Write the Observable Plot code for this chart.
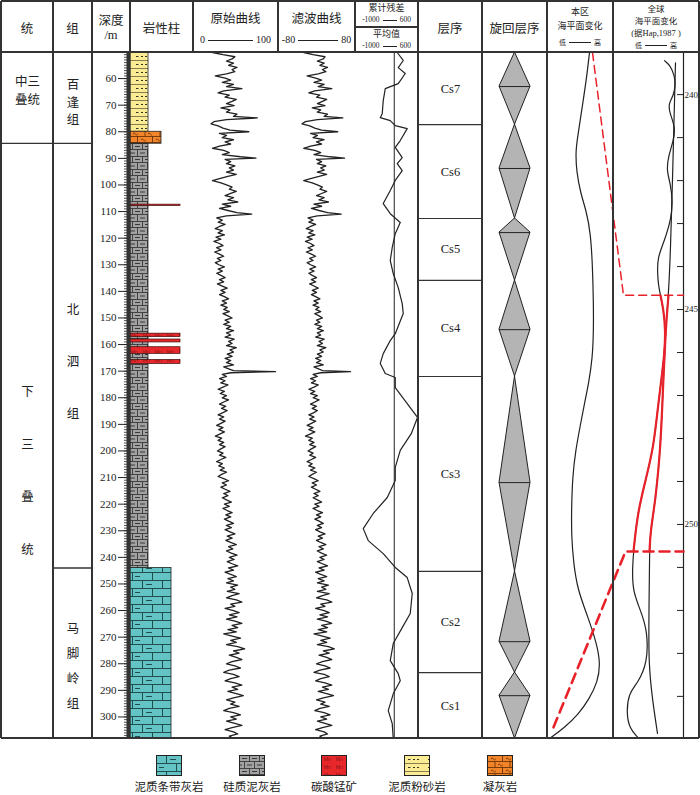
<!DOCTYPE html>
<html><head><meta charset="utf-8">
<script src="https://cdn.jsdelivr.net/npm/d3@7"></script>
<script src="https://cdn.jsdelivr.net/npm/@observablehq/plot@0.6"></script>
<style>
html,body{margin:0;padding:0;background:#fff;}
#root{position:relative;width:700px;height:795px;overflow:hidden;font-family:"Liberation Serif","Noto Sans CJK SC",serif;color:#222;}
.abs{position:absolute;}
.abs svg{display:block;}
</style></head>
<body>
<svg width="0" height="0" style="position:absolute">
<defs>
<pattern id="pTeal" patternUnits="userSpaceOnUse" width="40" height="16">
<rect width="40" height="16" fill="#64c3c4"/>
<g stroke="#214f50" stroke-width="1" fill="none">
<path d="M0,0.5H40M0,8.5H40M10.5,0.5V8.5M30.5,0.5V8.5M0.5,8.5V16M20.5,8.5V16"/>
<path d="M14,4.5h6M3,12.5h5"/>
</g></pattern>
<pattern id="pGray" patternUnits="userSpaceOnUse" width="20" height="13">
<rect width="20" height="13" fill="#a2a2a2"/>
<g stroke="#383838" stroke-width="0.9" fill="none">
<path d="M0,0.5H20M0,6.5H20M0.5,0.5V6.5M10.5,0.5V6.5M5.5,6.5V13M15.5,6.5V13"/>
<path d="M3,3.5h5M13,3.5h5M8,10h5M18,10h2M0,10h3" stroke-width="1.1"/>
</g></pattern>
<pattern id="pYellow" patternUnits="userSpaceOnUse" width="20" height="8">
<rect width="20" height="8" fill="#fbec93"/>
<path d="M0,0.5H20" stroke="#6b6240" stroke-width="0.8"/>
<path d="M4,4.5h2.5M9,4.5h2M13,4.5h2" stroke="#333" stroke-width="1"/>
</pattern>
<pattern id="pOrange" patternUnits="userSpaceOnUse" width="30" height="12">
<rect width="30" height="12" fill="#f2842a"/>
<g stroke="#5a2a05" stroke-width="0.8" fill="none">
<path d="M0,0.5H30M0,6.5H30M0.5,0V6.5M15.5,0V6.5M8,6.5V12M23,6.5V12"/>
<path d="M4,4q1.2,-2 2.4,0t2.4,0M19,4q1.2,-2 2.4,0t2.4,0M11,10q1.2,-2 2.4,0t2.4,0M26,10q1.2,-2 2.4,0t2.4,0"/>
</g></pattern>
<pattern id="pMn" patternUnits="userSpaceOnUse" width="24" height="8">
<rect width="24" height="8" fill="#e8272b"/>
<text x="3" y="6" font-size="5" fill="#7d1212" font-family="Liberation Sans">Mn</text>
<text x="15" y="6" font-size="5" fill="#7d1212" font-family="Liberation Sans">Mn</text>
</pattern>
</defs>
</svg>
<div id="root"></div>
<script>
// ---------------- data ----------------
const seriesLabel = ["中三\n叠统", "下\n三\n叠\n统"];
const seriesTop = [50.2, 84.4];
const seriesBase = [84.4, 308.1];
const formationLabel = ["百\n逢\n组", "北\n泗\n组", "马\n脚\n岭\n组"];
const formationTop = [50.2, 84.4, 244];
const formationBase = [84.4, 244, 308.1];

const lithType = ["泥质粉砂岩", "凝灰岩", "硅质泥灰岩", "泥质条带灰岩"];
const lithTop = [50.2, 80, 84.5, 244];
const lithBase = [80, 84.5, 244, 308.1];
const mnTop = [107.4, 155.9, 158.1, 161.0, 165.8];
const mnBase = [107.9, 157.2, 159.2, 163.5, 167.3];

const depthTicks = [60,70,80,90,100,110,120,130,140,150,160,170,180,190,200,210,220,230,240,250,260,270,280,290,300];

// raw log curve: [depth m, value 0-100]
const rawLog = [[50.2,10],[51.0,25],[51.8,42],[52.6,38],[53.4,30],[54.2,40],[55.0,33],[55.8,45],[56.6,38],[57.4,42],[58.2,30],[59.0,14],[59.8,28],[60.6,36],[61.4,24],[62.2,40],[63.0,30],[63.8,52],[64.6,26],[65.4,18],[66.2,34],[67.0,28],[67.8,44],[68.6,38],[69.4,30],[70.2,41],[71.0,22],[71.8,35],[72.6,30],[73.4,45],[74.2,40],[74.8,74],[75.4,30],[76.2,12],[77.0,8],[77.8,18],[78.6,25],[79.4,35],[80.0,62],[80.6,20],[81.4,30],[82.2,24],[83.0,40],[83.8,28],[84.6,36],[85.4,20],[86.2,10],[87.0,26],[87.8,34],[88.6,24],[89.4,50],[89.9,72],[90.4,28],[91.2,36],[92.0,30],[92.8,42],[93.6,34],[94.4,40],[95.2,30],[96.0,44],[96.8,32],[97.6,20],[98.4,10],[99.2,22],[100.0,30],[100.8,38],[101.6,34],[102.4,44],[103.2,36],[104.0,28],[104.8,40],[105.6,32],[106.4,46],[107.2,24],[108.0,36],[108.8,20],[109.6,32],[110.4,45],[111.0,66],[111.6,30],[112.4,16],[113.2,24],[114.0,18],[114.8,28],[115.6,20],[116.4,14],[117.2,24],[118.0,18],[118.8,27],[119.6,15],[120.4,22],[121.2,12],[122.0,20],[122.8,25],[123.6,16],[124.4,22],[125.2,13],[126.0,20],[126.8,26],[127.6,17],[128.4,22],[129.2,14],[130.0,19],[130.8,27],[131.6,18],[132.4,24],[133.2,16],[134.0,22],[134.8,28],[135.6,20],[136.4,26],[137.2,17],[138.0,24],[138.8,31],[139.6,22],[140.4,28],[141.2,20],[142.0,27],[142.8,33],[143.6,24],[144.4,30],[145.2,22],[146.0,31],[146.8,26],[147.6,34],[148.4,25],[149.2,32],[150.0,38],[150.8,28],[151.6,34],[152.4,26],[153.2,36],[154.0,30],[154.8,40],[155.6,30],[156.4,36],[157.2,28],[158.0,41],[158.8,33],[159.6,38],[160.4,30],[161.2,44],[162.0,35],[162.8,40],[163.6,31],[164.4,38],[165.2,28],[166.0,36],[166.8,30],[167.6,40],[168.4,26],[169.2,34],[169.8,40],[170.2,100],[170.6,36],[171.2,24],[172.0,30],[172.8,20],[173.6,28],[174.4,22],[175.2,32],[176.0,25],[176.8,18],[177.6,27],[178.4,21],[179.2,30],[180.0,24],[180.8,33],[181.6,26],[182.4,20],[183.2,29],[184.0,23],[184.8,31],[185.6,25],[186.4,18],[187.2,26],[188.0,20],[188.8,28],[189.6,22],[190.4,16],[191.2,25],[192.0,19],[192.8,27],[193.6,21],[194.4,14],[195.2,23],[196.0,18],[196.8,26],[197.6,20],[198.4,28],[199.2,22],[200.0,17],[200.8,25],[201.6,20],[202.4,29],[203.2,22],[204.0,16],[204.8,24],[205.6,19],[206.4,27],[207.2,21],[208.0,30],[208.8,23],[209.6,18],[210.4,26],[211.2,33],[212.0,24],[212.8,30],[213.6,22],[214.4,28],[215.2,35],[216.0,26],[216.8,32],[217.6,24],[218.4,30],[219.2,37],[220.0,27],[220.8,34],[221.6,25],[222.4,31],[223.2,38],[224.0,29],[224.8,36],[225.6,27],[226.4,33],[227.2,40],[228.0,30],[228.8,37],[229.6,28],[230.4,35],[231.2,42],[232.0,31],[232.8,38],[233.6,29],[234.4,36],[235.2,44],[236.0,33],[236.8,39],[237.6,30],[238.4,37],[239.2,45],[240.0,34],[240.8,41],[241.6,31],[242.4,38],[243.2,46],[244.0,33],[244.8,40],[245.6,28],[246.4,36],[247.2,44],[248.0,32],[248.8,40],[249.6,30],[250.4,46],[251.2,36],[252.0,42],[252.8,31],[253.6,48],[254.4,38],[255.2,30],[256.0,44],[256.8,52],[257.6,36],[258.4,42],[259.2,28],[260.0,40],[260.8,48],[261.6,34],[262.4,45],[263.2,30],[264.0,42],[264.8,52],[265.6,38],[266.4,46],[267.2,32],[268.0,44],[268.8,26],[269.6,38],[270.4,50],[271.2,36],[272.0,44],[272.8,30],[273.6,46],[274.4,56],[275.2,40],[276.0,48],[276.8,34],[277.6,44],[278.4,52],[279.2,38],[280.0,30],[280.8,42],[281.6,50],[282.4,34],[283.2,26],[284.0,40],[284.8,48],[285.6,36],[286.4,28],[287.2,42],[288.0,52],[288.8,38],[289.6,46],[290.4,32],[291.2,44],[292.0,54],[292.8,40],[293.6,30],[294.4,42],[295.2,36],[296.0,48],[296.8,34],[297.6,26],[298.4,40],[299.2,50],[300.0,36],[300.8,44],[301.6,30],[302.4,42],[303.2,52],[304.0,38],[304.8,28],[305.6,40],[306.4,46],[307.2,34],[308.1,40]];

// filtered curve: [depth m, value -80..80]
const filtLog = [[50.2,-30],[51.0,-8],[51.8,20],[52.6,16],[53.4,2],[54.2,18],[55.0,8],[55.8,26],[56.6,14],[57.4,22],[58.2,4],[59.0,-22],[59.8,-2],[60.6,12],[61.4,-6],[62.2,18],[63.0,4],[63.8,36],[64.6,-4],[65.4,-18],[66.2,8],[67.0,0],[67.8,24],[68.6,14],[69.4,2],[70.2,20],[71.0,-10],[71.8,10],[72.6,2],[73.4,26],[74.2,18],[74.8,62],[75.4,2],[76.2,-26],[77.0,-34],[77.8,-16],[78.6,-4],[79.4,12],[80.0,50],[80.6,-14],[81.4,2],[82.2,-8],[83.0,18],[83.8,0],[84.6,12],[85.4,-14],[86.2,-30],[87.0,-4],[87.8,10],[88.6,-6],[89.4,32],[89.9,66],[90.4,0],[91.2,12],[92.0,2],[92.8,22],[93.6,10],[94.4,18],[95.2,2],[96.0,24],[96.8,6],[97.6,-14],[98.4,-30],[99.2,-10],[100.0,2],[100.8,14],[101.6,8],[102.4,24],[103.2,12],[104.0,0],[104.8,18],[105.6,6],[106.4,28],[107.2,-6],[108.0,12],[108.8,-12],[109.6,6],[110.4,26],[111.0,58],[111.6,2],[112.4,-20],[113.2,-8],[114.0,-18],[114.8,-2],[115.6,-14],[116.4,-24],[117.2,-8],[118.0,-18],[118.8,-4],[119.6,-22],[120.4,-10],[121.2,-26],[122.0,-14],[122.8,-6],[123.6,-20],[124.4,-10],[125.2,-24],[126.0,-12],[126.8,-2],[127.6,-16],[128.4,-8],[129.2,-22],[130.0,-14],[130.8,-2],[131.6,-16],[132.4,-6],[133.2,-18],[134.0,-10],[134.8,0],[135.6,-12],[136.4,-2],[137.2,-16],[138.0,-6],[138.8,4],[139.6,-10],[140.4,0],[141.2,-12],[142.0,-2],[142.8,8],[143.6,-6],[144.4,4],[145.2,-8],[146.0,6],[146.8,-2],[147.6,10],[148.4,-4],[149.2,6],[150.0,14],[150.8,0],[151.6,8],[152.4,-4],[153.2,12],[154.0,2],[154.8,16],[155.6,2],[156.4,10],[157.2,-2],[158.0,18],[158.8,6],[159.6,14],[160.4,2],[161.2,22],[162.0,8],[162.8,16],[163.6,2],[164.4,12],[165.2,-2],[166.0,10],[166.8,0],[167.6,16],[168.4,-6],[169.2,6],[169.8,14],[170.2,80],[170.6,10],[171.2,-8],[172.0,2],[172.8,-14],[173.6,-2],[174.4,-12],[175.2,4],[176.0,-6],[176.8,-18],[177.6,-4],[178.4,-14],[179.2,2],[180.0,-8],[180.8,6],[181.6,-4],[182.4,-14],[183.2,0],[184.0,-10],[184.8,2],[185.6,-6],[186.4,-18],[187.2,-6],[188.0,-16],[188.8,-2],[189.6,-12],[190.4,-22],[191.2,-8],[192.0,-18],[192.8,-4],[193.6,-14],[194.4,-26],[195.2,-10],[196.0,-18],[196.8,-6],[197.6,-16],[198.4,-2],[199.2,-12],[200.0,-20],[200.8,-8],[201.6,-16],[202.4,-2],[203.2,-12],[204.0,-22],[204.8,-10],[205.6,-18],[206.4,-4],[207.2,-14],[208.0,0],[208.8,-10],[209.6,-18],[210.4,-6],[211.2,4],[212.0,-10],[212.8,0],[213.6,-12],[214.4,-2],[215.2,8],[216.0,-6],[216.8,4],[217.6,-8],[218.4,2],[219.2,12],[220.0,-4],[220.8,6],[221.6,-8],[222.4,2],[223.2,14],[224.0,0],[224.8,10],[225.6,-4],[226.4,6],[227.2,16],[228.0,2],[228.8,12],[229.6,-2],[230.4,8],[231.2,20],[232.0,4],[232.8,14],[233.6,0],[234.4,10],[235.2,22],[236.0,6],[236.8,16],[237.6,2],[238.4,12],[239.2,24],[240.0,8],[240.8,18],[241.6,2],[242.4,14],[243.2,26],[244.0,6],[244.8,18],[245.6,-2],[246.4,10],[247.2,24],[248.0,4],[248.8,18],[249.6,2],[250.4,28],[251.2,12],[252.0,22],[252.8,2],[253.6,30],[254.4,14],[255.2,0],[256.0,24],[256.8,36],[257.6,10],[258.4,20],[259.2,-2],[260.0,18],[260.8,30],[261.6,8],[262.4,26],[263.2,2],[264.0,22],[264.8,36],[265.6,12],[266.4,26],[267.2,4],[268.0,24],[268.8,-6],[269.6,14],[270.4,32],[271.2,10],[272.0,24],[272.8,2],[273.6,28],[274.4,42],[275.2,16],[276.0,30],[276.8,6],[277.6,24],[278.4,36],[279.2,14],[280.0,0],[280.8,20],[281.6,32],[282.4,8],[283.2,-6],[284.0,18],[284.8,30],[285.6,10],[286.4,-2],[287.2,20],[288.0,36],[288.8,14],[289.6,28],[290.4,4],[291.2,24],[292.0,40],[292.8,16],[293.6,0],[294.4,20],[295.2,10],[296.0,30],[296.8,8],[297.6,-4],[298.4,18],[299.2,32],[300.0,10],[300.8,24],[301.6,2],[302.4,20],[303.2,36],[304.0,14],[304.8,-2],[305.6,18],[306.4,26],[307.2,8],[308.1,16]];

// cumulative residual: [depth m, value]
const cumRes = [[50.2,77],[53.2,232],[55.9,103],[58.1,284],[61.9,103],[63.8,-232],[68.3,-284],[73.2,-310],[74.7,-361],[75.8,-103],[77.7,26],[78.8,335],[83.3,155],[85.9,26],[89.7,206],[92.0,77],[94.6,206],[98.3,26],[102.1,-103],[107.0,-284],[110.8,-103],[114.1,155],[118.3,26],[123.5,-52],[128.4,-103],[133.3,-26],[138.6,103],[144.6,206],[148.3,232],[155.9,26],[158.5,-103],[163.4,-284],[167.1,-361],[170.9,-232],[172.4,26],[176.2,26],[182.2,335],[187.4,600],[193.5,439],[199.8,155],[206.2,26],[211.1,26],[217.5,-180],[223.5,-542],[229.2,-800],[233.7,-671],[238.6,-284],[243.8,26],[247.6,335],[253.6,464],[261.1,413],[266.4,206],[272.4,-26],[278.8,-103],[283.7,103],[286.4,155],[291.3,-26],[297.6,-155],[302.5,-52],[308.1,-26]];

// sequences
const seqName = ["Cs7","Cs6","Cs5","Cs4","Cs3","Cs2","Cs1"];
const seqTop = [50.2, 77.3, 112.6, 135.9, 172.0, 245.3, 283.3];
const seqBase = [77.3, 112.6, 135.9, 172.0, 245.3, 283.3, 308.1];
const seqMid = [63.0, 93.8, 117.9, 154.4, 211.9, 271.7, 292.0];

// local sea level (relative units, low -> high)
const localSea = [[50.2,42],[60,39],[70,35],[80,31],[87,28],[95,29],[103,33],[110,39],[118,43],[130,45],[145,46],[155,46],[165,45],[175,41],[182,37],[190,33],[200,28],[210,25],[222,24],[232,24],[242,26],[252,30],[262,40],[272,49],[280,53],[287,50],[293,42],[299,31],[304,17],[308.1,2]];

// global sea level (Haq 1987): [age Ma, relative units]
const globalShort = [[239.21,117],[239.33,123],[239.56,127],[239.79,128],[240.02,126],[240.21,121],[240.42,122],[240.77,128],[241.07,126],[241.42,121],[241.77,119],[242.07,123],[242.47,125],[242.86,124],[243.40,117],[243.79,110],[244.16,110],[244.45,111],[244.67,113],[245.0,116],[245.49,118],[246.0,117],[246.42,115],[247.35,110],[248.21,106],[248.98,98],[249.74,90],[250.63,86],[251.0,85],[251.53,85],[252.0,93],[252.47,100],[253.23,100],[253.70,90],[253.93,81],[254.40,79],[254.74,82],[254.95,90]];
const globalLong = [[239.26,128],[240.14,127],[242.0,125],[243.63,123],[244.67,121],[245.49,118],[247.12,115],[248.21,113],[249.44,108],[250.14,103],[250.63,102],[252.0,101.5],[253.23,101],[254.09,105],[254.86,110]];
const studyAgeTop = 244.67, studyAgeBase = 250.63;
const ageTicks = [240,241,242,243,244,245,246,247,248,249,250,251,252,253,254];
const ageLabels = [240,245,250];
// correlation lines local -> global: [age, relative units]
const corrUpper = [[239.02,45],[244.67,76],[244.67,136]];
const corrLower = [[254.72,6],[250.63,78],[250.63,136]];

const legendName = ["泥质条带灰岩","硅质泥灰岩","碳酸锰矿","泥质粉砂岩","凝灰岩"];

// ---------------- styles ----------------
const lithStyle = {
  "泥质条带灰岩": {fill: "url(#pTeal)", w: 41},
  "硅质泥灰岩": {fill: "url(#pGray)", w: 18},
  "碳酸锰矿": {fill: "url(#pMn)", w: 50},
  "泥质粉砂岩": {fill: "url(#pYellow)", w: 18},
  "凝灰岩": {fill: "url(#pOrange)", w: 31}
};
const H = 686, TOP = 52;
const depthDomain = [50.2, 308.1];
const ageDomain = [239.02, 254.98];
const INK = "#222";
const st = {background: "transparent", fontFamily: "'Liberation Serif','Noto Sans CJK SC',serif", fontSize: "11px", color: INK, overflow: "visible"};
const Yd = {domain: depthDomain, reverse: true, axis: null};
const M0 = {marginTop: 0, marginBottom: 0, marginLeft: 0, marginRight: 0};
const CJK = "'Noto Sans CJK SC',sans-serif";

const root = document.getElementById("root");
function div(css, html) {
  const e = document.createElement("div");
  e.className = "abs";
  Object.assign(e.style, css);
  if (html != null) e.innerHTML = html;
  root.appendChild(e);
  return e;
}
function mount(svg, left, width) {
  const w = div({left: left + "px", top: TOP + "px", width: width + "px", height: H + "px"});
  w.appendChild(svg);
}
function hline(x1, x2, y, w = 1.3) { div({left: x1 + "px", top: (y - w / 2) + "px", width: (x2 - x1) + "px", height: w + "px", background: "#333"}); }
function vline(x, y1, y2, w = 1.3) { div({left: (x - w / 2) + "px", top: y1 + "px", width: w + "px", height: (y2 - y1) + "px", background: "#333"}); }
function label(html, left, cy, width, size, extra = {}) {
  const lh = Math.ceil(size * 1.5);
  return div(Object.assign({left: left + "px", top: (cy - lh / 2) + "px", width: width + "px", textAlign: "center", fontSize: size + "px", lineHeight: lh + "px", whiteSpace: "nowrap"}, extra), html);
}

// ---------------- 统 / 组 ----------------
const seriesLH = [1.45, 4.2], seriesDy = [-9, 17];
mount(Plot.plot({width: 52, height: H, ...M0, y: Yd, style: st, marks: [
  ...seriesLabel.map((s, i) => Plot.text([i], {y: j => (seriesTop[j] + seriesBase[j]) / 2, text: j => seriesLabel[j], lineHeight: seriesLH[i], dy: seriesDy[i], fontSize: 12.5, fontFamily: CJK, fill: INK})),
  Plot.ruleY(seriesTop.slice(1), {stroke: "#333", strokeWidth: 1.3})
]}), 1, 52);

const formLH = [1.4, 4.15, 2.0], formDy = [3, -6, 9];
mount(Plot.plot({width: 39, height: H, ...M0, y: Yd, style: st, marks: [
  ...formationLabel.map((s, i) => Plot.text([i], {y: j => (formationTop[j] + formationBase[j]) / 2, text: j => formationLabel[j], lineHeight: formLH[i], dy: formDy[i], fontSize: 12.5, fontFamily: CJK, fill: INK})),
  Plot.ruleY(formationTop.slice(1), {stroke: "#333", strokeWidth: 1.3})
]}), 53, 39);

// ---------------- depth + lithology ----------------
const lithIdx = d3.range(lithType.length);
const mnIdx = d3.range(mnTop.length);
mount(Plot.plot({width: 101, height: H, marginTop: 0, marginBottom: 0, marginLeft: 38, marginRight: 0,
  x: {domain: [0, 63], axis: null},
  y: {domain: depthDomain, reverse: true, ticks: depthTicks, tickSize: 12, tickPadding: 2, label: null, tickFormat: d => String(d)},
  color: {type: "identity"},
  style: {...st, fontSize: "11px"},
  marks: [
    Plot.ruleY(d3.range(51, 308, 1), {x1: -6, x2: 0, stroke: INK, strokeWidth: 0.8}),
    Plot.rect(lithIdx, {x1: 0, x2: i => lithStyle[lithType[i]].w, y1: i => lithTop[i], y2: i => lithBase[i], fill: i => lithStyle[lithType[i]].fill, stroke: INK, strokeWidth: 0.8}),
    Plot.rect(mnIdx, {x1: 0, x2: () => lithStyle["碳酸锰矿"].w, y1: i => mnTop[i], y2: i => mnBase[i], fill: () => lithStyle["碳酸锰矿"].fill, stroke: "#3a0a0a", strokeWidth: 0.7}),
    Plot.ruleX([0], {stroke: "#333", strokeWidth: 4, dx: -2})
  ]}), 92, 101);

// ---------------- raw curve ----------------
mount(Plot.plot({width: 85, height: H, marginTop: 0, marginBottom: 0, marginLeft: 12, marginRight: 3,
  x: {domain: [0, 100], axis: null}, y: Yd, style: st,
  marks: [Plot.line(rawLog, {x: d => d[1], y: d => d[0], stroke: INK, strokeWidth: 1.3})]}), 193, 85);

// ---------------- filtered curve ----------------
mount(Plot.plot({width: 77, height: H, marginTop: 0, marginBottom: 0, marginLeft: 4, marginRight: 5,
  x: {domain: [-80, 80], axis: null}, y: Yd, style: st,
  marks: [Plot.line(filtLog, {x: d => d[1], y: d => d[0], stroke: INK, strokeWidth: 1.3})]}), 278, 77);

// ---------------- cumulative residual ----------------
mount(Plot.plot({width: 63, height: H, marginTop: 0, marginBottom: 0, marginLeft: 0, marginRight: 1,
  x: {domain: [-1000, 600], axis: null}, y: Yd, style: st,
  marks: [
    Plot.ruleX([0], {stroke: INK, strokeWidth: 1}),
    Plot.line(cumRes, {x: d => d[1], y: d => d[0], stroke: INK, strokeWidth: 1.2})
  ]}), 355, 63);

// ---------------- sequences ----------------
const seqIdx = d3.range(seqName.length);
mount(Plot.plot({width: 64, height: H, ...M0, y: Yd, style: {...st, fontSize: "12.5px"},
  marks: [
    Plot.ruleY(seqTop.slice(1), {stroke: "#333", strokeWidth: 1.2}),
    Plot.text(seqIdx, {y: i => (seqTop[i] + seqBase[i]) / 2, text: i => seqName[i], fill: INK})
  ]}), 418, 64);

// cycle diamonds
const diamond = seqIdx.flatMap(i => [
  {seq: seqName[i], depth: seqTop[i], w: 0},
  {seq: seqName[i], depth: seqMid[i], w: 1},
  {seq: seqName[i], depth: seqBase[i], w: 0}
]);
mount(Plot.plot({width: 65, height: H, marginTop: 0, marginBottom: 0, marginLeft: 17, marginRight: 17,
  x: {domain: [-1, 1], axis: null}, y: Yd, style: st,
  marks: [
    Plot.areaX(diamond, {y: "depth", x1: d => -d.w, x2: d => d.w, z: "seq", fill: "#b4b4b4", stroke: INK, strokeWidth: 1}),
    Plot.ruleY(seqMid, {x1: -1, x2: 1, stroke: INK, strokeWidth: 1})
  ]}), 482, 65);

// ---------------- sea level panels ----------------
mount(Plot.plot({width: 152, height: H, marginTop: 0, marginBottom: 0, marginLeft: 0, marginRight: 16,
  x: {domain: [0, 136], axis: null}, y: Yd, style: st,
  marks: [Plot.line(localSea, {x: d => d[1], y: d => d[0], stroke: INK, strokeWidth: 1.2, curve: "basis"})]}), 547, 152);

const inStudy = d => d[0] >= studyAgeTop && d[0] <= studyAgeBase;
mount(Plot.plot({width: 152, height: H, marginTop: 0, marginBottom: 0, marginLeft: 0, marginRight: 16,
  x: {domain: [0, 136], axis: null},
  y: {domain: ageDomain, reverse: true, axis: "right", ticks: ageLabels, tickSize: 0, tickPadding: 1, label: null, tickFormat: d => String(d)},
  style: {...st, fontSize: "9px"},
  marks: [
    Plot.ruleX([136], {stroke: INK, strokeWidth: 1.2}),
    Plot.ruleY(ageTicks, {x1: 130, x2: 136, stroke: INK, strokeWidth: 1}),
    Plot.line(globalShort, {x: d => d[1], y: d => d[0], stroke: INK, strokeWidth: 1.2, curve: "basis"}),
    Plot.line(globalLong, {x: d => d[1], y: d => d[0], stroke: INK, strokeWidth: 1.2, curve: "basis"}),
    Plot.line(globalShort.filter(inStudy), {x: d => d[1], y: d => d[0], stroke: "#e8222a", strokeWidth: 2.2, curve: "basis"}),
    Plot.line(globalLong.filter(inStudy), {x: d => d[1], y: d => d[0], stroke: "#e8222a", strokeWidth: 2.2, curve: "basis"}),
    Plot.line(corrUpper, {x: d => d[1], y: d => d[0], stroke: "#e8222a", strokeWidth: 1.5, strokeDasharray: "8,5"}),
    Plot.line(corrLower, {x: d => d[1], y: d => d[0], stroke: "#e8222a", strokeWidth: 2.6, strokeDasharray: "10,6"})
  ]}), 547, 152);

// ---------------- frame lines ----------------
hline(1, 699, 1); hline(1, 699, 52); hline(1, 699, 738, 1.6);
hline(355, 418, 27);
[1, 53, 92, 418, 482, 547, 613, 699].forEach(x => vline(x, 1, 738));
[130, 193, 278, 355].forEach(x => vline(x, 1, 52));

// ---------------- header ----------------
const f12 = {fontFamily: CJK};
label("统", 1, 27, 52, 12.5, f12);
label("组", 53, 27, 39, 12.5, f12);
label("深度", 92, 19, 38, 12.5, f12);
label("/m", 92, 35, 38, 12.5);
label("岩性柱", 130, 27, 63, 12.5, f12);
label("原始曲线", 193, 17, 85, 12.5, f12);
label("滤波曲线", 278, 17, 77, 12.5, f12);
const scaleRow = (a, len, b, lw) => `<span>${a}</span><span style="display:inline-block;width:${len}px;border-top:${lw}px solid #222;vertical-align:middle;margin:0 3px"></span><span>${b}</span>`;
label(scaleRow("0", 45, "100", 1.6), 193, 39, 85, 10);
label(scaleRow("-80", 40, "80", 1.6), 278, 39, 77, 10);
label("累计残差", 355, 8, 63, 9, f12);
label(scaleRow("-1000", 14, "600", 1.4), 355, 20, 63, 7.5);
label("平均值", 355, 34, 63, 9, f12);
label(scaleRow("-1000", 14, "600", 1.4), 355, 46, 63, 7.5);
label("层序", 418, 27, 64, 12.5, f12);
label("旋回层序", 482, 27, 65, 12.5, f12);
label("本区", 547, 12, 66, 9, f12);
label("海平面变化", 547, 26, 66, 9, f12);
label(scaleRow("低", 22, "高", 1.4), 547, 42, 66, 7, f12);
label("全球", 613, 8, 86, 8.5, f12);
label("海平面变化", 613, 20.5, 86, 8.5, f12);
label("(据Hap,1987 )", 613, 33, 86, 8.5);
label(scaleRow("低", 22, "高", 1.4), 613, 45, 86, 7, f12);

// ---------------- legend ----------------
const legendCenter = [169, 252, 334, 417, 500];
legendName.forEach((n, i) => {
  const cx = legendCenter[i];
  div({left: (cx - 13) + "px", top: "755px", width: "26px", height: "21px"},
    `<svg width="26" height="21"><rect x="0.5" y="0.5" width="25" height="20" fill="${lithStyle[n].fill}" stroke="#222" stroke-width="1"/></svg>`);
  label(n, cx - 45, 785.5, 90, 11.5, f12);
});
</script>
</body></html>
